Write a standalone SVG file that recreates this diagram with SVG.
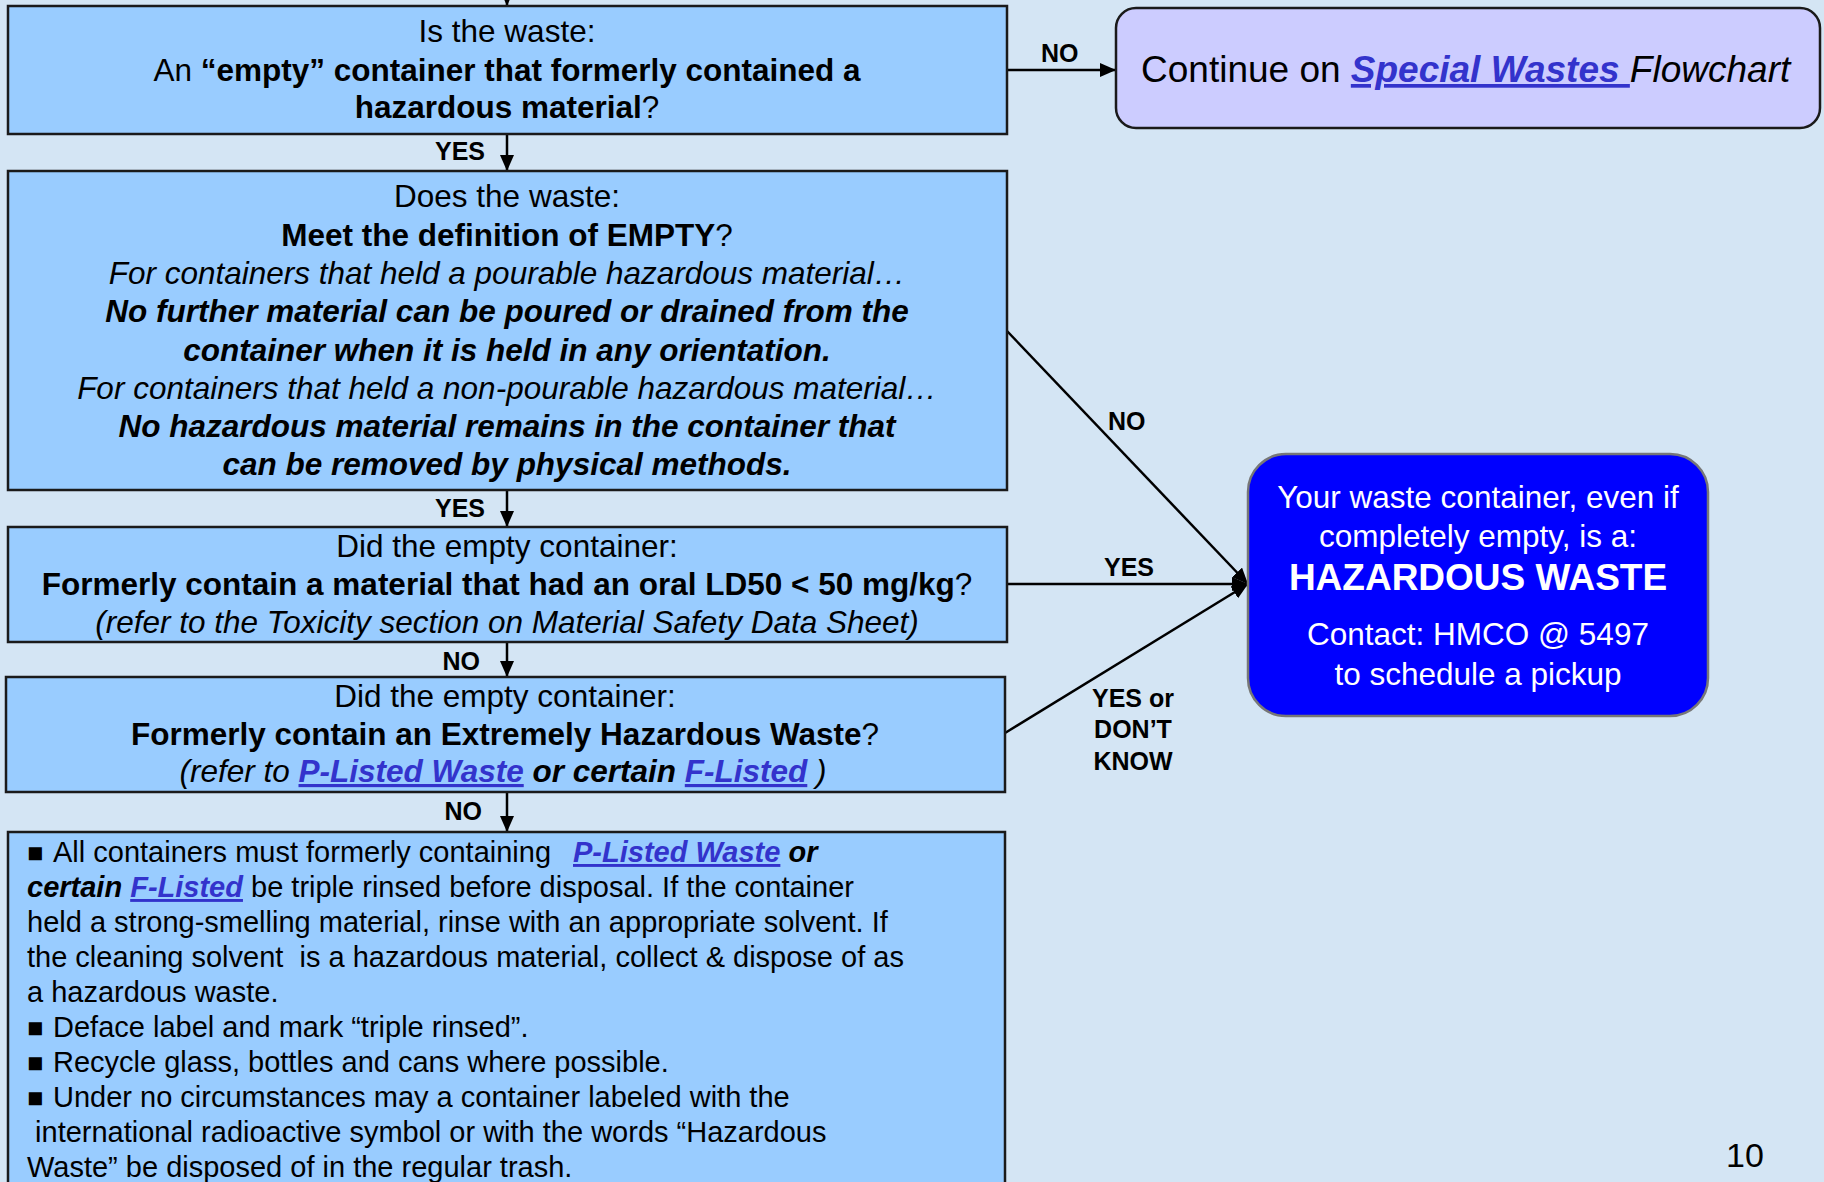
<svg xmlns="http://www.w3.org/2000/svg" width="1824" height="1182" viewBox="0 0 1824 1182">
<style>
text{font-family:"Liberation Sans",Arial,sans-serif;fill:#000}
.q{font-size:31.5px;text-anchor:middle}
.b5{font-size:29px}
.bu{font-size:27px}
.lbl{font-size:25px;font-weight:bold}
.b{font-weight:bold}
.i{font-style:italic}
.lk{fill:#3333cc;font-weight:bold;font-style:italic;text-decoration:underline}
.box{fill:#99ccff;stroke:#1a1a1a;stroke-width:2.5}
.con{stroke:#000;stroke-width:2.5;fill:none}
.w{fill:#fff;text-anchor:middle}
</style>
<defs>
<marker id="ah" markerUnits="userSpaceOnUse" markerWidth="16" markerHeight="14" viewBox="0 0 16 14" refX="16" refY="7" orient="auto">
<path d="M0,0 L16,7 L0,14 z" fill="#000"/>
</marker>
</defs>
<rect width="1824" height="1182" fill="#d4e5f4"/>

<g id="connectors">
<line class="con" x1="507" y1="-10" x2="507" y2="6" marker-end="url(#ah)"/>
<line class="con" x1="507" y1="134" x2="507" y2="171" marker-end="url(#ah)"/>
<line class="con" x1="507" y1="490" x2="507" y2="527" marker-end="url(#ah)"/>
<line class="con" x1="507" y1="642" x2="507" y2="677" marker-end="url(#ah)"/>
<line class="con" x1="507" y1="792" x2="507" y2="832" marker-end="url(#ah)"/>
<line class="con" x1="1007" y1="70" x2="1116" y2="70" marker-end="url(#ah)"/>
<line class="con" x1="1007" y1="331" x2="1248" y2="584" marker-end="url(#ah)"/>
<line class="con" x1="1007" y1="584" x2="1248" y2="584" marker-end="url(#ah)"/>
<line class="con" x1="1005" y1="733" x2="1248" y2="584" marker-end="url(#ah)"/>
<text class="lbl" x="485" y="160" text-anchor="end">YES</text>
<text class="lbl" x="485" y="517" text-anchor="end">YES</text>
<text class="lbl" x="480" y="670" text-anchor="end">NO</text>
<text class="lbl" x="482" y="820" text-anchor="end">NO</text>
<text class="lbl" x="1041" y="62">NO</text>
<text class="lbl" x="1108" y="430">NO</text>
<text class="lbl" x="1104" y="576">YES</text>
<text class="lbl" x="1133" y="707" text-anchor="middle">YES or</text>
<text class="lbl" x="1133" y="738" text-anchor="middle">DON’T</text>
<text class="lbl" x="1133" y="770" text-anchor="middle">KNOW</text>
</g>

<g id="q1">
<rect class="box" x="8" y="6" width="999" height="128"/>
<text class="q" x="507" y="42">Is the waste:</text>
<text class="q" x="507" y="81">An <tspan class="b">“empty” container that formerly contained a</tspan></text>
<text class="q" x="507" y="118"><tspan class="b">hazardous material</tspan>?</text>
</g>

<g id="special">
<rect x="1116" y="8" width="704" height="120" rx="20" fill="#ccccff" stroke="#1a1a1a" stroke-width="2.5"/>
<text x="1141" y="82" font-size="37px">Continue on <tspan class="lk">Special Wastes </tspan><tspan class="i">Flowchart</tspan></text>
</g>

<g id="q2">
<rect class="box" x="8" y="171" width="999" height="319"/>
<text class="q" x="507" y="207">Does the waste:</text>
<text class="q" x="507" y="246"><tspan class="b">Meet the definition of EMPTY</tspan>?</text>
<text class="q i" x="507" y="284">For containers that held a pourable hazardous material…</text>
<text class="q b i" x="507" y="322">No further material can be poured or drained from the</text>
<text class="q b i" x="507" y="361">container when it is held in any orientation.</text>
<text class="q i" x="507" y="399">For containers that held a non-pourable hazardous material…</text>
<text class="q b i" x="507" y="437">No hazardous material remains in the container that</text>
<text class="q b i" x="507" y="475">can be removed by physical methods.</text>
</g>

<g id="q3">
<rect class="box" x="8" y="527" width="999" height="115"/>
<text class="q" x="507" y="557">Did the empty container:</text>
<text class="q" x="507" y="595"><tspan class="b">Formerly contain a material that had an oral LD50 &lt; 50 mg/kg</tspan>?</text>
<text class="q i" x="507" y="633">(refer to the Toxicity section on Material Safety Data Sheet)</text>
</g>

<g id="q4">
<rect class="box" x="6" y="677" width="999" height="115"/>
<text class="q" x="505" y="707">Did the empty container:</text>
<text class="q" x="505" y="745"><tspan class="b">Formerly contain an Extremely Hazardous Waste</tspan>?</text>
<text class="q i" x="503" y="782">(refer to <tspan class="lk">P-Listed Waste</tspan><tspan class="b"> or certain </tspan><tspan class="lk">F-Listed</tspan> )</text>
</g>

<g id="result">
<rect x="1248" y="454" width="460" height="262" rx="38" fill="#0000ff" stroke="#777" stroke-width="2.5"/>
<text class="w" x="1478" y="508" font-size="31.5px">Your waste container, even if</text>
<text class="w" x="1478" y="547" font-size="31.5px">completely empty, is a:</text>
<text class="w b" x="1478" y="590" font-size="37px">HAZARDOUS WASTE</text>
<text class="w" x="1478" y="645" font-size="31.5px">Contact: HMCO @ 5497</text>
<text class="w" x="1478" y="685" font-size="31.5px">to schedule a pickup</text>
</g>

<g id="instructions">
<rect class="box" x="8" y="832" width="997" height="370"/>
<text class="b5" y="862" xml:space="preserve"><tspan x="27" class="bu">■</tspan><tspan x="53">All containers must formerly containing</tspan><tspan x="573" class="lk">P-Listed Waste</tspan><tspan class="b i"> or</tspan></text>
<text class="b5" x="27" y="897" xml:space="preserve"><tspan class="b i">certain </tspan><tspan class="lk">F-Listed</tspan> be triple rinsed before disposal. If the container</text>
<text class="b5" x="27" y="932">held a strong-smelling material, rinse with an appropriate solvent. If</text>
<text class="b5" x="27" y="967" xml:space="preserve">the cleaning solvent  is a hazardous material, collect &amp; dispose of as</text>
<text class="b5" x="27" y="1002">a hazardous waste.</text>
<text class="b5" y="1037"><tspan x="27" class="bu">■</tspan><tspan x="53">Deface label and mark “triple rinsed”.</tspan></text>
<text class="b5" y="1072"><tspan x="27" class="bu">■</tspan><tspan x="53">Recycle glass, bottles and cans where possible.</tspan></text>
<text class="b5" y="1107"><tspan x="27" class="bu">■</tspan><tspan x="53">Under no circumstances may a container labeled with the</tspan></text>
<text class="b5" x="27" y="1142" xml:space="preserve"> international radioactive symbol or with the words “Hazardous</text>
<text class="b5" x="27" y="1177">Waste” be disposed of in the regular trash.</text>
</g>

<text x="1726" y="1167" font-size="34px">10</text>
</svg>
